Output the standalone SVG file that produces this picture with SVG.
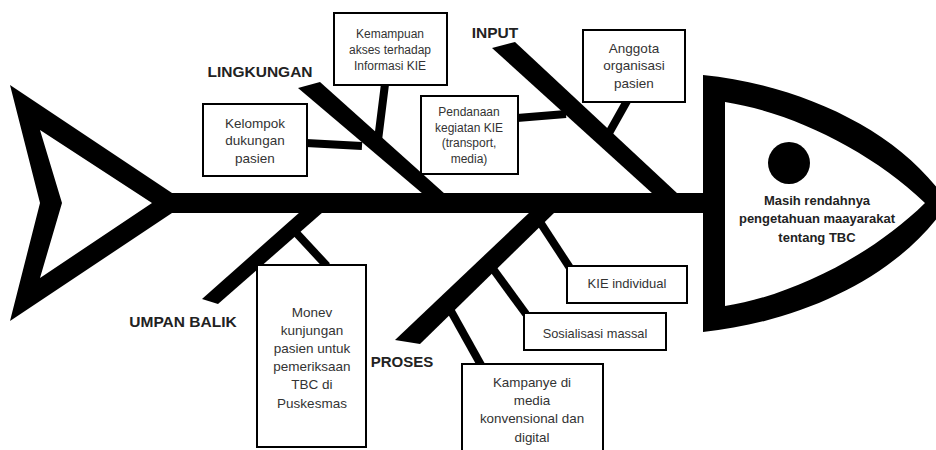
<svg xmlns="http://www.w3.org/2000/svg" width="936" height="450" viewBox="0 0 936 450">
<style>
.box{fill:#fff;stroke:#000;stroke-width:2}
.bt{font-family:"Liberation Sans",Arial,sans-serif;fill:#333;text-anchor:middle}
.lbl{font-family:"Liberation Sans",Arial,sans-serif;font-weight:bold;fill:#222;text-anchor:middle}
.sub{stroke:#000;stroke-width:8;fill:none}
.blk{fill:#000}
</style>
<rect width="936" height="450" fill="#fff"/>
<g id="tail">
<path class="blk" fill-rule="evenodd" d="M10,85 L172,193 L172,213 L10,321 L40,203 Z M40,130 L62,203 L40,278 L152,203 Z"/>
</g>
<g id="connectors">
<rect class="blk" x="165" y="193" width="545" height="20"/>
<polygon class="blk" points="298,88 320,82 445,194 423,194"/>
<polygon class="blk" points="492,48 515,42 678,194 653,194"/>
<polygon class="blk" points="202,299 218,304 323,212 300,212"/>
<polygon class="blk" points="395,340 420,344 555,212 530,212"/>
<line class="sub" x1="306" y1="143" x2="362" y2="146"/>
<line class="sub" x1="385" y1="84" x2="378" y2="140"/>
<line class="sub" x1="517" y1="118" x2="566" y2="114"/>
<line class="sub" x1="627" y1="101" x2="609" y2="133"/>
<line class="sub" x1="288" y1="224" x2="327" y2="266"/>
<line class="sub" x1="538" y1="219" x2="570" y2="268"/>
<line class="sub" x1="488" y1="262" x2="526" y2="314"/>
<line class="sub" x1="447" y1="304" x2="481" y2="365"/>
</g>
<g id="head">
<path class="blk" fill-rule="evenodd" d="M703,75 C800,85 900,130 948,203 C900,277 800,322 703,332 Z M725,102 C790,112 870,150 925,203 C870,257 790,296 725,306 Z"/>
<circle class="blk" cx="789" cy="163" r="21"/>
<text class="lbl" font-size="13" x="817" y="205">Masih rendahnya</text>
<text class="lbl" font-size="13" x="817" y="223">pengetahuan maayarakat</text>
<text class="lbl" font-size="13" x="817" y="242">tentang TBC</text>
</g>
<g id="label-lingkungan"><text class="lbl" font-size="15.5" x="260" y="77">LINGKUNGAN</text></g>
<g id="label-input"><text class="lbl" font-size="15.5" x="495" y="38">INPUT</text></g>
<g id="label-umpan-balik"><text class="lbl" font-size="15.5" x="183" y="327">UMPAN BALIK</text></g>
<g id="label-proses"><text class="lbl" font-size="15" x="402" y="367">PROSES</text></g>
<g id="kelompok">
<rect class="box" x="203" y="104" width="104" height="72"/>
<text class="bt" font-size="13.5" x="255" y="128">Kelompok</text>
<text class="bt" font-size="13.5" x="255" y="145">dukungan</text>
<text class="bt" font-size="13.5" x="255" y="163">pasien</text>
</g>
<g id="kemampuan">
<rect class="box" x="334" y="13" width="113" height="72"/>
<text class="bt" font-size="12" x="390" y="38">Kemampuan</text>
<text class="bt" font-size="12" x="390" y="54">akses terhadap</text>
<text class="bt" font-size="12" x="390" y="70">Informasi KIE</text>
</g>
<g id="pendanaan">
<rect class="box" x="421" y="96" width="97" height="78"/>
<text class="bt" font-size="12" x="469" y="116">Pendanaan</text>
<text class="bt" font-size="12" x="469" y="132">kegiatan KIE</text>
<text class="bt" font-size="12" x="469" y="147">(transport,</text>
<text class="bt" font-size="12" x="469" y="163">media)</text>
</g>
<g id="anggota">
<rect class="box" x="583" y="30" width="102" height="72"/>
<text class="bt" font-size="13.5" x="634" y="53">Anggota</text>
<text class="bt" font-size="13.5" x="634" y="70">organisasi</text>
<text class="bt" font-size="13.5" x="634" y="88">pasien</text>
</g>
<g id="monev">
<rect class="box" x="257" y="265" width="109" height="182"/>
<text class="bt" font-size="13.5" x="312" y="317">Monev</text>
<text class="bt" font-size="13.5" x="312" y="335">kunjungan</text>
<text class="bt" font-size="13.5" x="312" y="353">pasien untuk</text>
<text class="bt" font-size="13.5" x="312" y="371">pemeriksaan</text>
<text class="bt" font-size="13.5" x="312" y="389">TBC di</text>
<text class="bt" font-size="13.5" x="312" y="408">Puskesmas</text>
</g>
<g id="kie-individual">
<rect class="box" x="567" y="266" width="120" height="37"/>
<text class="bt" font-size="13" x="627" y="288">KIE individual</text>
</g>
<g id="sosialisasi">
<rect class="box" x="524" y="313" width="142" height="37"/>
<text class="bt" font-size="12.8" x="595" y="338">Sosialisasi massal</text>
</g>
<g id="kampanye">
<rect class="box" x="462" y="364" width="141" height="88"/>
<text class="bt" font-size="13.4" x="532" y="387">Kampanye di</text>
<text class="bt" font-size="13.4" x="532" y="405">media</text>
<text class="bt" font-size="13.4" x="532" y="423">konvensional dan</text>
<text class="bt" font-size="13.4" x="532" y="442">digital</text>
</g>
</svg>
